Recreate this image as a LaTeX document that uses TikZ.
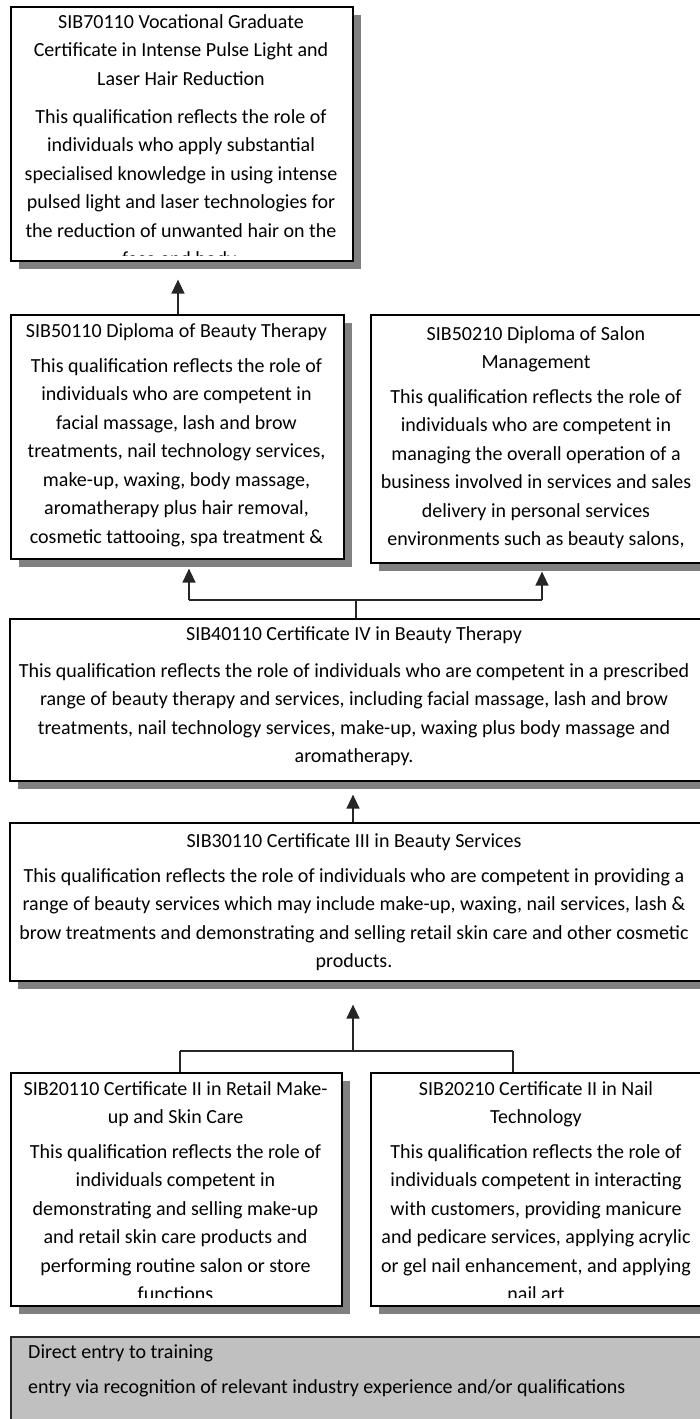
\documentclass[tikz,border=0pt]{standalone}
\usepackage{fontspec}
\setmainfont{Carlito}
\usetikzlibrary{arrows.meta,calc}
\definecolor{shadowgray}{RGB}{128,128,128}
\definecolor{entrygray}{RGB}{192,192,192}
\newcommand{\mylines}[1]{\begin{tabular}[t]{@{}c@{}}#1\end{tabular}}
\newcommand{\myleft}[1]{\begin{tabular}[t]{@{}l@{}}#1\end{tabular}}
\tikzset{
  qbox/.style={draw=black, line width=1.6pt, fill=white, anchor=north west, inner sep=0pt,
    preaction={fill=shadowgray, transform canvas={xshift=8pt, yshift=-8pt}}},
  ebox/.style={draw=black!85, line width=1.6pt, fill=entrygray, anchor=north west, inner sep=0pt},
  txt/.style={inner sep=0pt, anchor=base, font=\fontsize{20}{28.5}\selectfont},
  ltxt/.style={inner sep=0pt, anchor=base west, font=\fontsize{20}{28.5}\selectfont},
  conn/.style={draw=black!85, line width=1.4pt},
  arr/.style={conn, -{Triangle[length=14pt,width=13pt]}},
}
\begin{document}
\begin{tikzpicture}[x=1pt,y=-1pt]
\useasboundingbox (0,0) rectangle (700,1419);
\clip (0,0) rectangle (700,1419);

% boxes
\node[qbox, minimum width=342pt, minimum height=254pt] (top) at (10,6) {};
\node[qbox, minimum width=333pt, minimum height=244pt] (dipl) at (10,314) {};
\node[qbox, minimum width=332pt, minimum height=248pt] (salon) at (370,314) {};
\node[qbox, minimum width=693pt, minimum height=162pt] (cert4) at (9,618) {};
\node[qbox, minimum width=693pt, minimum height=158pt] (cert3) at (9,822) {};
\node[qbox, minimum width=331pt, minimum height=233pt] (ctwoa) at (10,1072) {};
\node[qbox, minimum width=332pt, minimum height=233pt] (ctwob) at (370,1072) {};
\node[ebox, minimum width=692pt, minimum height=100pt] (direct) at (10,1336) {};

% texts
\node[txt] (topT) at (181,28) {\mylines{SIB70110 Vocational Graduate\\Certificate in Intense Pulse Light and\\Laser Hair Reduction}};
\begin{scope}
\clip (top.north west) rectangle ($(top.south east)+(0,-6)$);
\node[txt] (topB) at (181,123) {\mylines{This qualification reflects the role of\\individuals who apply substantial\\specialised knowledge in using intense\\pulsed light and laser technologies for\\the reduction of unwanted hair on the\\face and body.}};
\end{scope}

\node[txt] (diplT) at (176.5,337) {\mylines{SIB50110 Diploma of Beauty Therapy}};
\node[txt] (diplB) at (176.5,372) {\mylines{This qualification reflects the role of\\individuals who are competent in\\facial massage, lash and brow\\treatments, nail technology services,\\make-up, waxing, body massage,\\aromatherapy plus hair removal,\\cosmetic tattooing, spa treatment \&}};

\node[txt] (salonT) at (536,340) {\mylines{SIB50210 Diploma of Salon\\Management}};
\node[txt] (salonB) at (536,403) {\mylines{This qualification reflects the role of\\individuals who are competent in\\managing the overall operation of a\\business involved in services and sales\\delivery in personal services\\environments such as beauty salons,}};

\node[txt] (cert4T) at (354,640) {\mylines{SIB40110 Certificate IV in Beauty Therapy}};
\node[txt] (cert4B) at (354,677) {\mylines{This qualification reflects the role of individuals who are competent in a prescribed\\range of beauty therapy and services, including facial massage, lash and brow\\treatments, nail technology services, make-up, waxing plus body massage and\\aromatherapy.}};

\node[txt] (cert3T) at (354,847) {\mylines{SIB30110 Certificate III in Beauty Services}};
\node[txt] (cert3B) at (354,882) {\mylines{This qualification reflects the role of individuals who are competent in providing a\\range of beauty services which may include make-up, waxing, nail services, lash \&\\brow treatments and demonstrating and selling retail skin care and other cosmetic\\products.}};

\node[txt] (ctwoaT) at (175.5,1095) {\mylines{SIB20110 Certificate II in Retail Make-\\up and Skin Care}};
\begin{scope}
\clip (ctwoa.north west) rectangle ($(ctwoa.south east)+(0,-9)$);
\node[txt] (ctwoaB) at (175.5,1158) {\mylines{This qualification reflects the role of\\individuals competent in\\demonstrating and selling make-up\\and retail skin care products and\\performing routine salon or store\\functions}};
\end{scope}

\node[txt] (ctwobT) at (536,1095) {\mylines{SIB20210 Certificate II in Nail\\Technology}};
\begin{scope}
\clip (ctwob.north west) rectangle ($(ctwob.south east)+(0,-9)$);
\node[txt] (ctwobB) at (536,1158) {\mylines{This qualification reflects the role of\\individuals competent in interacting\\with customers, providing manicure\\and pedicare services, applying acrylic\\or gel nail enhancement, and applying\\nail art}};
\end{scope}

\node[ltxt] (directT) at (28,1358) {\myleft{Direct entry to training}};
\node[ltxt] (directB) at (28,1393) {\myleft{entry via recognition of relevant industry experience and/or qualifications}};

% connectors
\coordinate (xa) at (178,0);
\draw[arr, shorten >=18pt] (dipl.north -| xa) -- (top.south -| xa);

\coordinate (j1) at (356,600);
\coordinate (ja) at (189,600);
\coordinate (jb) at (542,600);
\draw[conn] (cert4.north -| j1) -- (j1);
\draw[conn] (ja) -- (jb);
\draw[arr, shorten >=9pt] (ja) -- (ja |- dipl.south);
\draw[arr, shorten >=8pt] (jb) -- (jb |- salon.south);

\coordinate (xb) at (353,0);
\draw[arr, shorten >=13pt] (cert3.north -| xb) -- (cert4.south -| xb);

\coordinate (j2) at (353,1051);
\coordinate (jc) at (180,1051);
\coordinate (jd) at (513,1051);
\draw[arr, shorten >=23pt] (j2) -- (cert3.south -| j2);
\draw[conn] (jc) -- (jd);
\draw[conn] (jc) -- (ctwoa.north -| jc);
\draw[conn] (jd) -- (ctwob.north -| jd);
\end{tikzpicture}
\end{document}
